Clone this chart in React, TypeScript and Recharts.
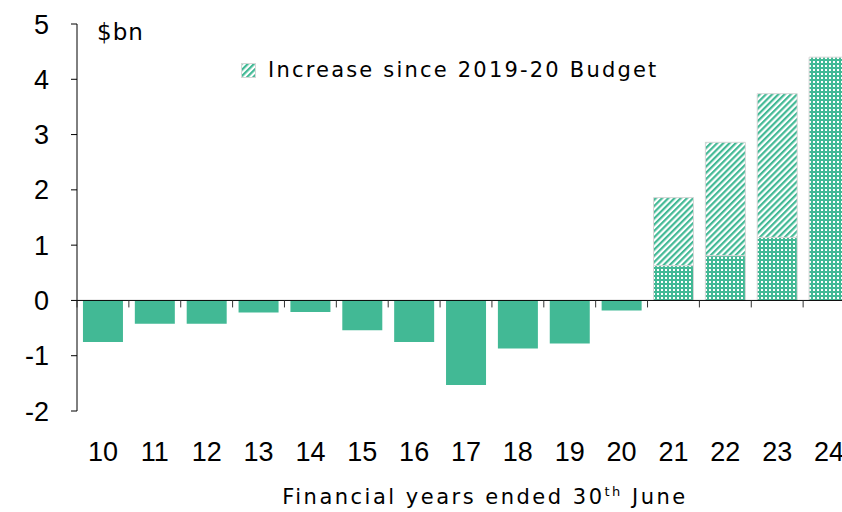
import React from 'react';
import { BarChart, Bar, XAxis, YAxis, Cell, ReferenceLine, Label } from 'recharts';

const categories = ['10', '11', '12', '13', '14', '15', '16', '17', '18', '19', '20', '21', '22', '23', '24'];
const baseValues = [-0.75, -0.42, -0.42, -0.22, -0.21, -0.54, -0.75, -1.53, -0.87, -0.78, -0.18, 0.63, 0.81, 1.14, 4.4];
const increaseValues = [0, 0, 0, 0, 0, 0, 0, 0, 0, 0, 0, 1.23, 2.05, 2.6, 0];
const yTicks = [-2, -1, 0, 1, 2, 3, 4, 5];
const legendLabel = 'Increase since 2019-20 Budget';
const unitLabel = '$bn';
const xTitleMain = 'Financial years ended 30';
const xTitleSup = 'th';
const xTitleEnd = ' June';

const data = categories.map((c, i) => ({ year: c, base: baseValues[i], increase: increaseValues[i] }));

const GREEN = '#42B995';
const BORDER = '#d6d6d6';
const W = 870;
const H = 512;
const M = { top: 24, right: 15, bottom: 0, left: 0 };
const XAXIS_H = 101;
const YAXIS_W = 77;
const yMin = yTicks[0];
const yMax = yTicks[yTicks.length - 1];
const plotH = H - M.top - M.bottom - XAXIS_H;
const zeroY = M.top + (plotH * (yMax - 0)) / (yMax - yMin);
const bandHalfFallback = (W - M.left - M.right - YAXIS_W) / categories.length / 2;

const TEXT_FONT = '"DejaVu Sans", sans-serif';
const NUM_FONT = '"Liberation Sans", Arial, sans-serif';

const XTick = (props: any) => {
  const { x, y, payload } = props;
  const half = payload && payload.offset ? payload.offset : bandHalfFallback;
  return (
    <g>
      <line x1={x - half} x2={x - half} y1={zeroY} y2={zeroY + 7} stroke="#333" strokeWidth={1} />
      <text x={x} y={y + 50} textAnchor="middle" fill="#000" fontSize={27} fontFamily={NUM_FONT}>
        {payload.value}
      </text>
    </g>
  );
};

const HatchDefs = ({ id }: { id: string }) => (
  <pattern id={id} width="4.4" height="4.4" patternUnits="userSpaceOnUse" patternTransform="rotate(45)">
    <rect width="4.4" height="4.4" fill="#fff" />
    <rect width="2.2" height="4.4" fill={GREEN} />
  </pattern>
);

const LegendBox = () => (
  <div
    style={{
      position: 'absolute',
      left: 241,
      top: 57,
      display: 'flex',
      alignItems: 'center',
      fontFamily: TEXT_FONT,
      fontSize: 21,
      color: '#000',
      whiteSpace: 'nowrap',
      lineHeight: '26px',
    }}
  >
    <svg width={15} height={15} style={{ marginRight: 12 }}>
      <defs>
        <HatchDefs id="hatchIcon" />
      </defs>
      <rect x={0.5} y={0.5} width={14} height={14} fill="url(#hatchIcon)" stroke={BORDER} />
    </svg>
    <span style={{ letterSpacing: 2.2 }}>{legendLabel}</span>
  </div>
);

export default function App() {
  return (
    <div style={{ position: 'absolute', left: 0, top: 0, width: 842, height: 512, overflow: 'hidden', background: '#fff' }}>
      <BarChart width={W} height={H} data={data} margin={M} barCategoryGap="11.5%">
        <defs>
          <pattern id="dots" width="4" height="4" patternUnits="userSpaceOnUse">
            <rect width="4" height="4" fill={GREEN} />
            <rect x="1" y="1" width="2" height="2" fill="#fff" />
          </pattern>
          <HatchDefs id="hatch" />
        </defs>
        <XAxis
          dataKey="year"
          axisLine={false}
          tickLine={false}
          tickSize={0}
          tickMargin={0}
          height={XAXIS_H}
          interval={0}
          tick={<XTick />}
        >
          <Label
            content={(p: any) => {
              const vb = p.viewBox;
              return (
                <text x={vb.x + vb.width / 2 + 19} y={vb.y + 93} textAnchor="middle" fontFamily={TEXT_FONT} fontSize={21} fill="#000" letterSpacing={2.5}>
                  {xTitleMain}
                  <tspan fontSize={13} dy={-8}>{xTitleSup}</tspan>
                  <tspan dy={8}>{xTitleEnd}</tspan>
                </text>
              );
            }}
          />
        </XAxis>
        <YAxis
          type="number"
          domain={[yMin, yMax]}
          ticks={yTicks}
          width={YAXIS_W}
          interval={0}
          tickSize={6}
          tickMargin={22}
          axisLine={{ stroke: '#000' }}
          tickLine={{ stroke: '#000' }}
          tick={{ fill: '#000', fontSize: 27, fontFamily: NUM_FONT }}
        >
          <Label
            content={(p: any) => {
              const vb = p.viewBox;
              return (
                <text x={vb.x + vb.width + 20} y={vb.y + 16} fontFamily={TEXT_FONT} fontSize={23} fill="#000" letterSpacing={1}>
                  {unitLabel}
                </text>
              );
            }}
          />
        </YAxis>
        <Bar dataKey="base" stackId="s" isAnimationActive={false} legendType="none">
          {data.map((d, i) => (
            <Cell
              key={`b${i}`}
              fill={d.base < 0 ? GREEN : 'url(#dots)'}
              stroke={d.base < 0 ? 'none' : BORDER}
            />
          ))}
        </Bar>
        <Bar dataKey="increase" stackId="s" isAnimationActive={false}>
          {data.map((d, i) => (
            <Cell key={`h${i}`} fill="url(#hatch)" stroke={d.increase > 0 ? BORDER : 'none'} />
          ))}
        </Bar>
        <ReferenceLine y={0} stroke="#000" strokeWidth={1} ifOverflow="extendDomain" />
      </BarChart>
      <LegendBox />
    </div>
  );
}
